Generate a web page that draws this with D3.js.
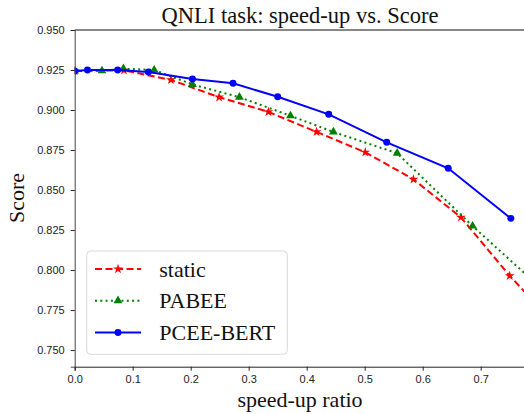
<!DOCTYPE html>
<html>
<head>
	<meta charset="utf-8">
	<script src="https://cdn.jsdelivr.net/npm/d3@7"></script>
	<style>
		body { margin: 0; background: white; }
		.tick text { font-family: "Liberation Sans", Arial, sans-serif; font-size: 11px; fill: #222; }
		.serif { font-family: "Liberation Serif", "Times New Roman", serif; fill: #111; }
	</style>
</head>
<body>
	<svg></svg>
	<script>
		// values
		var seriesNames = ["static", "PABEE", "PCEE-BERT"];
		var staticX = [0.0, 0.085, 0.166, 0.249, 0.334, 0.417, 0.501, 0.584, 0.666, 0.750, 0.800];
		var staticY = [0.9244, 0.9248, 0.9188, 0.908, 0.8988, 0.8863, 0.8736, 0.8567, 0.8329, 0.7964, 0.777];
		var pabeeX = [0.0, 0.047, 0.084, 0.137, 0.203, 0.284, 0.372, 0.446, 0.556, 0.686, 0.800];
		var pabeeY = [0.9244, 0.9245, 0.9258, 0.925, 0.916, 0.908, 0.8964, 0.8863, 0.873, 0.8275, 0.790];
		var pceeX = [0.0, 0.022, 0.074, 0.127, 0.203, 0.273, 0.350, 0.438, 0.538, 0.644, 0.752];
		var pceeY = [0.9244, 0.925, 0.925, 0.9238, 0.9194, 0.9167, 0.9083, 0.8973, 0.8798, 0.8636, 0.8323];
		var xTicks = [0.0, 0.1, 0.2, 0.3, 0.4, 0.5, 0.6, 0.7];
		var yTicks = [0.750, 0.775, 0.800, 0.825, 0.850, 0.875, 0.900, 0.925, 0.950];

		var width = 524, height = 414;
		var margins = { "left": 74.7, "right": -1, "top": 30, "bottom": 47.3 };

		var svg = d3.select("svg")
			.attr("width", width)
			.attr("height", height);

		var x = d3.scaleLinear()
			.domain([0, 0.7764])
			.range([margins.left, width - margins.right]);
		var y = d3.scaleLinear()
			.domain([0.7396, 0.95])
			.range([height - margins.bottom, margins.top]);

		svg.append("clipPath").attr("id", "plot")
			.append("rect")
			.attr("x", x.range()[0]).attr("y", y.range()[1])
			.attr("width", x.range()[1] - x.range()[0])
			.attr("height", y.range()[0] - y.range()[1]);

		var styles = [
			{ xs: staticX, ys: staticY, color: "#ff0000", dash: "7,3.5", marker: "star" },
			{ xs: pabeeX, ys: pabeeY, color: "#008000", dash: "2,3.3", marker: "triangle" },
			{ xs: pceeX, ys: pceeY, color: "#0000ff", dash: null, marker: "circle" }
		];

		var symbols = {
			star: d3.symbol().type(d3.symbolStar).size(30),
			triangle: d3.symbol().type(d3.symbolTriangle).size(34),
			circle: d3.symbol().type(d3.symbolCircle).size(38)
		};

		var line = d3.line().x(d => x(d[0])).y(d => y(d[1]));

		var plot = svg.append("g").attr("clip-path", "url(#plot)");
		styles.forEach(function (s) {
			var pts = s.xs.map((v, i) => [v, s.ys[i]]);
			plot.append("path")
				.attr("d", line(pts))
				.attr("fill", "none")
				.attr("stroke", s.color)
				.attr("stroke-width", 2)
				.attr("stroke-dasharray", s.dash);
			plot.selectAll(null)
				.data(pts)
				.enter()
				.append("path")
				.attr("d", symbols[s.marker])
				.attr("transform", d => "translate(" + x(d[0]) + "," + y(d[1]) + ")")
				.attr("fill", s.color);
		});

		// axes
		svg.append("g")
			.attr("transform", "translate(0," + y.range()[0] + ")")
			.call(d3.axisBottom(x).tickValues(xTicks).tickFormat(d3.format(".1f")).tickSize(4).tickPadding(5))
			.call(g => g.select(".domain").attr("stroke", "#222"))
			.call(g => g.selectAll(".tick line").attr("stroke", "#222"));
		svg.append("g")
			.attr("transform", "translate(" + x.range()[0] + ",0)")
			.call(d3.axisLeft(y).tickValues(yTicks).tickFormat(d3.format(".3f")).tickSize(4).tickPadding(6))
			.call(g => g.select(".domain").attr("stroke", "#444"))
			.call(g => g.selectAll(".tick line").attr("stroke", "#222"));
		svg.append("line")
			.attr("x1", x.range()[0]).attr("x2", x.range()[1])
			.attr("y1", y.range()[1]).attr("y2", y.range()[1])
			.attr("stroke", "#111");

		// title and labels
		svg.append("text").attr("class", "serif")
			.attr("x", 300).attr("y", 23)
			.attr("text-anchor", "middle")
			.style("font-size", "22.5px")
			.text("QNLI task: speed-up vs. Score");
		svg.append("text").attr("class", "serif")
			.attr("x", 300).attr("y", 407)
			.attr("text-anchor", "middle")
			.style("font-size", "22px")
			.text("speed-up ratio");
		svg.append("text").attr("class", "serif")
			.attr("transform", "translate(24,198) rotate(-90)")
			.attr("text-anchor", "middle")
			.style("font-size", "22px")
			.text("Score");

		// legend
		var legend = svg.append("g").attr("transform", "translate(86.7,251)");
		legend.append("rect")
			.attr("width", 200.6).attr("height", 103.3)
			.attr("rx", 4)
			.attr("fill", "white").attr("fill-opacity", 0.8)
			.attr("stroke", "#d9d9d9");
		styles.forEach(function (s, i) {
			var ry = 18 + i * 31.7;
			legend.append("line")
				.attr("x1", 8.3).attr("x2", 54.3)
				.attr("y1", ry).attr("y2", ry)
				.attr("stroke", s.color).attr("stroke-width", 2)
				.attr("stroke-dasharray", s.dash);
			legend.append("path")
				.attr("d", symbols[s.marker])
				.attr("transform", "translate(31.3," + ry + ")")
				.attr("fill", s.color);
			legend.append("text").attr("class", "serif")
				.attr("x", 72.6).attr("y", ry + 7.5)
				.style("font-size", "22px")
				.text(seriesNames[i]);
		});
	</script>
</body>
</html>
